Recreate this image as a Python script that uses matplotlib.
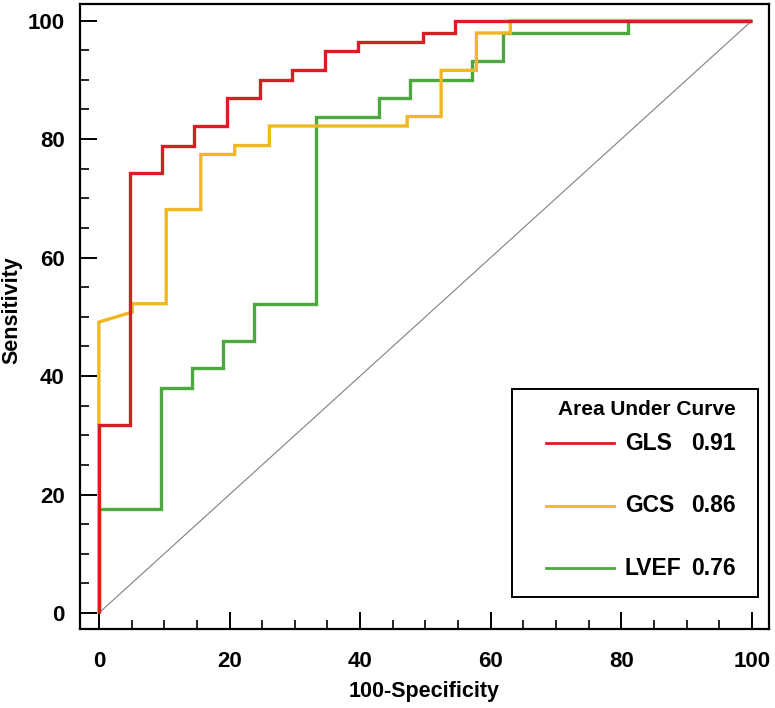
"""ROC curves for GLS, GCS and LVEF."""

import matplotlib
matplotlib.use('Agg')
import matplotlib.pyplot as plt
from matplotlib.patches import Rectangle
from matplotlib.ticker import MultipleLocator

# ROC vertices (100-Specificity, Sensitivity)
gls_fpr = [0, 0, 4.8, 4.8, 9.7, 9.7, 14.6, 14.6, 19.6, 19.6, 24.6, 24.6,
           29.6, 29.6, 34.6, 34.6, 39.6, 39.6, 49.6, 49.6, 54.6, 54.6, 100]
gls_tpr = [0, 31.7, 31.7, 74.2, 74.2, 78.9, 78.9, 82.2, 82.2, 87.0, 87.0, 90.0,
           90.0, 91.7, 91.7, 94.8, 94.8, 96.3, 96.3, 97.9, 97.9, 100, 100]

gcs_fpr = [0, 0, 5.1, 5.1, 10.3, 10.3, 15.6, 15.6, 20.8, 20.8, 26.1, 26.1,
           47.2, 47.2, 52.4, 52.4, 57.8, 57.8, 63.0, 63.0, 100]
gcs_tpr = [0, 49.1, 50.8, 52.2, 52.2, 68.1, 68.1, 77.4, 77.4, 78.9, 78.9, 82.2,
           82.2, 83.8, 83.8, 91.6, 91.6, 97.9, 97.9, 100, 100]

lvef_fpr = [0, 0, 9.5, 9.5, 14.3, 14.3, 19.0, 19.0, 23.8, 23.8, 33.3, 33.3,
            42.9, 42.9, 47.6, 47.6, 57.1, 57.1, 61.9, 61.9, 81.0, 81.0, 100]
lvef_tpr = [0, 17.5, 17.5, 37.9, 37.9, 41.3, 41.3, 45.9, 45.9, 52.2, 52.2, 83.8,
            83.8, 87.0, 87.0, 90.0, 90.0, 93.2, 93.2, 97.9, 97.9, 100, 100]

names = ['GLS', 'GCS', 'LVEF']
auc_values = [0.91, 0.86, 0.76]

colors = {'GLS': '#D81E24', 'GCS': '#EFB822', 'LVEF': '#4DA83F'}

plt.rcParams['font.family'] = ['Liberation Sans', 'DejaVu Sans']
plt.rcParams['font.weight'] = 'bold'

fig = plt.figure(figsize=(7.75, 7.08), dpi=100)
ax = fig.add_axes([0.1032, 0.1116, 0.8890, 0.8828])

# chance line
ax.plot([0, 100], [0, 100], color='#808080', lw=0.8, zorder=1)

curves = {
    'LVEF': (lvef_fpr, lvef_tpr),
    'GCS': (gcs_fpr, gcs_tpr),
    'GLS': (gls_fpr, gls_tpr),
}
for z, (name, (fpr, tpr)) in enumerate(curves.items()):
    ax.plot(fpr, tpr, color=colors[name], lw=2.4, zorder=2 + z,
            solid_joinstyle='miter', solid_capstyle='butt')

ax.set_xlim(-2.9, 102.6)
ax.set_ylim(-2.7, 102.8)
ax.xaxis.set_major_locator(MultipleLocator(20))
ax.yaxis.set_major_locator(MultipleLocator(20))
ax.xaxis.set_minor_locator(MultipleLocator(5))
ax.yaxis.set_minor_locator(MultipleLocator(5))
ax.tick_params(which='major', direction='in', length=12, width=1.4,
               labelsize=16)
ax.tick_params(which='minor', direction='in', length=6.5, width=1.2)
ax.tick_params(axis='x', which='major', pad=16)
ax.tick_params(axis='y', which='major', pad=11)
for sp in ax.spines.values():
    sp.set_linewidth(1.6)

ax.set_xlabel('100-Specificity', fontsize=15.5, fontweight='bold', labelpad=6)
ax.set_ylabel('Sensitivity', fontsize=15.5, fontweight='bold')
ax.yaxis.set_label_coords(-0.083, 0.51)

# legend box drawn by hand so the AUC values line up
box_x0, box_x1 = 0.6266, 0.9836
box_y0, box_y1 = 0.0517, 0.3835
ax.add_patch(Rectangle((box_x0, box_y0), box_x1 - box_x0, box_y1 - box_y0,
                       transform=ax.transAxes, facecolor='white',
                       edgecolor='black', lw=1.4, zorder=10))
ax.text(0.8225, 0.3504, 'Area Under Curve', transform=ax.transAxes,
        ha='center', va='center', fontsize=15, fontweight='bold', zorder=11)
for i, (name, auc) in enumerate(zip(names, auc_values)):
    y = 0.297 - i * 0.1
    ax.plot([0.676, 0.775], [y, y], transform=ax.transAxes,
            color=colors[name], lw=2, zorder=11)
    ax.text(0.791, y, name, transform=ax.transAxes, ha='left',
            va='center', fontsize=16.5, fontweight='bold', zorder=11)
    ax.text(0.8868, y, f'{auc:.2f}', transform=ax.transAxes, ha='left',
            va='center', fontsize=16.5, fontweight='bold', zorder=11)

fig.savefig('out.png', dpi=100)
plt.close(fig)
